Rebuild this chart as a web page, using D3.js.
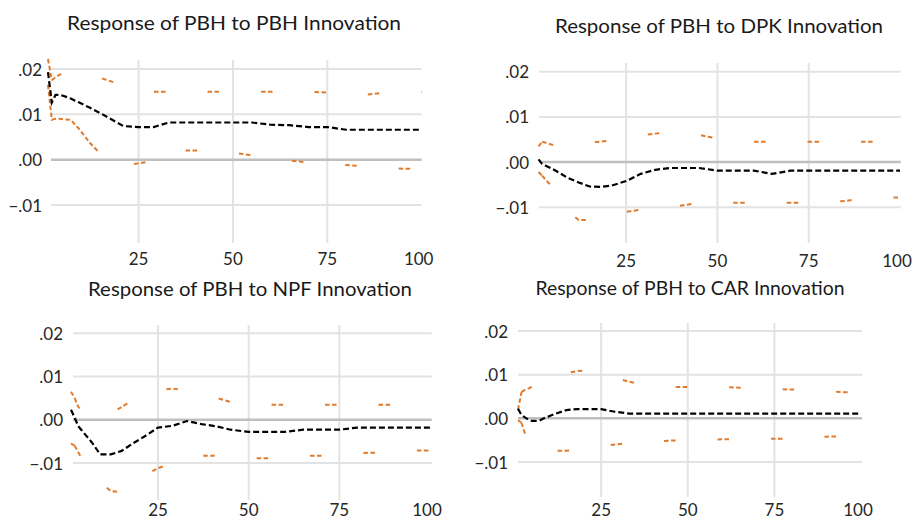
<!DOCTYPE html>
<html>
<head>
<meta charset="utf-8">
<script src="https://cdn.jsdelivr.net/npm/d3@7"></script>
<style>
  body { margin: 0; background: #fff; }
  svg { display: block; }
</style>
</head>
<body>
<div id="chart"></div>
<script>
var periods = [1, 2, 3, 4, 5, 7, 9, 12, 15, 18, 21, 25, 29, 33, 37, 41, 45, 50, 55, 60, 65, 70, 75, 80, 85, 90, 95, 100];

var titles = ["Response of PBH to PBH Innovation", "Response of PBH to DPK Innovation",
    "Response of PBH to NPF Innovation", "Response of PBH to CAR Innovation"];

var yTicks = [-0.01, 0, 0.01, 0.02];
var xTicks = [25, 50, 75, 100];

// PBH -> PBH
var pbhResp = [.0193, .0126, .0143, .0143, .0141, .0135, .0127, .0115, .0102, .0088, .0074, .0072, .0072, .0082, .0082, .0082, .0082, .0082, .0082, .0077, .0076, .0072, .0072, .0066, .0066, .0066, .0066, .0066];
var pbhUpper = [.0222, .0175, .0182, .0187, .0190, .0192, .0192, .0190, .0180, .0172, .0165, .0158, .0150, .0150, .0150, .0150, .0150, .0150, .0150, .0150, .0150, .0150, .0148, .0143, .0143, .0148, .0150, .0150];
var pbhLower = [.0165, .0088, .0090, .0090, .0089, .0088, .0070, .0038, .0012, -.0010, -.0013, -.0008, -.0003, .0008, .0020, .0020, .0017, .0015, .0010, .0003, -.0002, -.0006, -.0009, -.0012, -.0015, -.0017, -.0020, -.0020];

// PBH -> DPK
var dpkResp = [.0006, -.0004, -.0008, -.0012, -.0016, -.0025, -.0035, -.0045, -.0054, -.0055, -.0052, -.0042, -.0026, -.0017, -.0013, -.0013, -.0013, -.0019, -.0019, -.0019, -.0026, -.0019, -.0019, -.0019, -.0019, -.0019, -.0019, -.0019];
var dpkUpper = [.0035, .0045, .0043, .0040, .0038, .0036, .0037, .0040, .0044, .0045, .0048, .0054, .0059, .0063, .0066, .0063, .0060, .0052, .0048, .0045, .0045, .0045, .0045, .0045, .0045, .0045, .0045, .0045];
var dpkLower = [-.0022, -.0030, -.0040, -.0048, -.0060, -.0085, -.0108, -.0128, -.0128, -.0122, -.0115, -.0110, -.0105, -.0102, -.0100, -.0095, -.0090, -.0090, -.0090, -.0090, -.0090, -.0090, -.0090, -.0088, -.0086, -.0080, -.0079, -.0078];

// PBH -> NPF
var npfResp = [.0023, .0005, -.0015, -.0025, -.0035, -.0055, -.0080, -.0080, -.0072, -.0055, -.0040, -.0018, -.0014, -.0003, -.0010, -.0015, -.0023, -.0028, -.0028, -.0028, -.0023, -.0023, -.0023, -.0018, -.0018, -.0018, -.0018, -.0018];
var npfUpper = [.0065, .0050, .0030, .0020, .0017, .0010, .0006, .0014, .0030, .0045, .0058, .0068, .0072, .0068, .0061, .0051, .0041, .0036, .0035, .0035, .0035, .0035, .0035, .0035, .0035, .0035, .0035, .0035];
var npfLower = [-.0055, -.0060, -.0075, -.0090, -.0105, -.0125, -.0145, -.0165, -.0168, -.0150, -.0130, -.0112, -.0100, -.0090, -.0083, -.0083, -.0086, -.0089, -.0089, -.0086, -.0083, -.0083, -.0080, -.0077, -.0076, -.0073, -.0071, -.0071];

// PBH -> CAR
var carResp = [.0022, .0008, .0002, -.0003, -.0006, -.0006, .0002, .0011, .0019, .0021, .0021, .0021, .0015, .0011, .0011, .0011, .0011, .0011, .0011, .0011, .0011, .0011, .0011, .0011, .0011, .0011, .0011, .0011];
var carUpper = [.0020, .0060, .0065, .0068, .0072, .0080, .0088, .0097, .0104, .0108, .0110, .0101, .0093, .0084, .0077, .0074, .0072, .0072, .0072, .0072, .0070, .0068, .0067, .0066, .0065, .0062, .0060, .0060];
var carLower = [-.0004, -.0010, -.0035, -.0055, -.0068, -.0072, -.0073, -.0074, -.0074, -.0072, -.0070, -.0064, -.0060, -.0057, -.0055, -.0053, -.0051, -.0050, -.0049, -.0048, -.0047, -.0047, -.0047, -.0046, -.0044, -.0042, -.0041, -.0040];

var responses = [pbhResp, dpkResp, npfResp, carResp];
var uppers = [pbhUpper, dpkUpper, npfUpper, carUpper];
var lowers = [pbhLower, dpkLower, npfLower, carLower];

// where each of the 4 panels sits in the picture
var layout = [
    { tx: 234, ty: 22, tw: 334, left: 51, right: 421.7, top: 60, bottom: 243, x1: 48, x100: 421.7, y02: 69, ym01: 205, lx: 42, xy: 258, denseUp: 2, denseLo: 12 },
    { tx: 719, ty: 25, tw: 328, left: 539, right: 900.7, top: 63, bottom: 243, x1: 538.5, x100: 900, y02: 71.7, ym01: 207.3, lx: 529, xy: 260, denseUp: 2, denseLo: 2 },
    { tx: 250, ty: 288, tw: 324, left: 73, right: 431.7, top: 325, bottom: 500, x1: 71, x100: 430, y02: 333.3, ym01: 463, lx: 63, xy: 509, denseUp: 2, denseLo: 2 },
    { tx: 690, ty: 287, tw: 309, left: 518, right: 862, top: 323, bottom: 497, x1: 518, x100: 861, y02: 331, ym01: 462, lx: 508, xy: 509, denseUp: 2, denseLo: 2 }
];

var svg = d3.select("#chart")
    .append("svg")
    .attr("width", 913)
    .attr("height", 519)
    .style("font-family", "Lato, 'Open Sans', sans-serif");

layout.forEach(function (p, i) {
    var g = svg.append("g");

    var x = d3.scaleLinear().domain([1, 100]).range([p.x1, p.x100]);
    var y = d3.scaleLinear().domain([-0.01, 0.02]).range([p.ym01, p.y02]);

    // title
    g.append("text")
        .attr("x", p.tx)
        .attr("y", p.ty)
        .attr("text-anchor", "middle")
        .attr("dominant-baseline", "central")
        .attr("textLength", p.tw)
        .attr("lengthAdjust", "spacingAndGlyphs")
        .style("font-size", "19px")
        .style("fill", "#1a1a1a")
        .text(titles[i]);

    // vertical gridlines
    g.selectAll("vgrid")
        .data([25, 50, 75])
        .enter()
        .append("line")
        .attr("x1", d => x(d)).attr("x2", d => x(d))
        .attr("y1", p.top).attr("y2", p.bottom)
        .style("stroke", "#e3e3e3")
        .style("stroke-width", 2);

    // horizontal gridlines, zero line darker
    g.selectAll("hgrid")
        .data(yTicks)
        .enter()
        .append("line")
        .attr("x1", p.left).attr("x2", p.right)
        .attr("y1", d => y(d)).attr("y2", d => y(d))
        .style("stroke", d => d == 0 ? "#bfbfbf" : "#e3e3e3")
        .style("stroke-width", d => d == 0 ? 2.5 : 2);

    // y tick labels
    g.selectAll("ylab")
        .data(yTicks)
        .enter()
        .append("text")
        .attr("x", p.lx)
        .attr("y", d => y(d))
        .attr("text-anchor", "end")
        .attr("dominant-baseline", "central")
        .style("font-size", "17px")
        .style("fill", "#262626")
        .text(d => d3.format(".2f")(d).replace("0.", "."));

    // x tick labels
    g.selectAll("xlab")
        .data(xTicks)
        .enter()
        .append("text")
        .attr("x", d => x(d) - (d == 100 ? 3 : 0))
        .attr("y", p.xy)
        .attr("text-anchor", "middle")
        .attr("dominant-baseline", "central")
        .style("font-size", "17px")
        .style("fill", "#262626")
        .text(d => d);

    var line = d3.line()
        .x(d => x(d[0]))
        .y(d => y(d[1]));

    // confidence bands: dense dashes at the start, sparse after
    function band(values, denseEnd) {
        var pts = periods.map((t, k) => [t, values[k]]);
        g.append("path")
            .datum(pts.filter(d => d[0] <= denseEnd))
            .attr("d", line)
            .style("fill", "none")
            .style("stroke", "#e07b2e")
            .style("stroke-width", 2)
            .style("stroke-dasharray", "4.5,2.5");
        g.append("path")
            .datum(pts.filter(d => d[0] >= denseEnd))
            .attr("d", line)
            .style("fill", "none")
            .style("stroke", "#e07b2e")
            .style("stroke-width", 2)
            .style("stroke-dasharray", "4.5,2.5,4.5,42");
    }
    band(uppers[i], p.denseUp);
    band(lowers[i], p.denseLo);

    // impulse response
    g.append("path")
        .datum(periods.map((t, k) => [t, responses[i][k]]))
        .attr("d", line)
        .style("fill", "none")
        .style("stroke", "#000")
        .style("stroke-width", 2.2)
        .style("stroke-dasharray", "6,3");
});
</script>
</body>
</html>
